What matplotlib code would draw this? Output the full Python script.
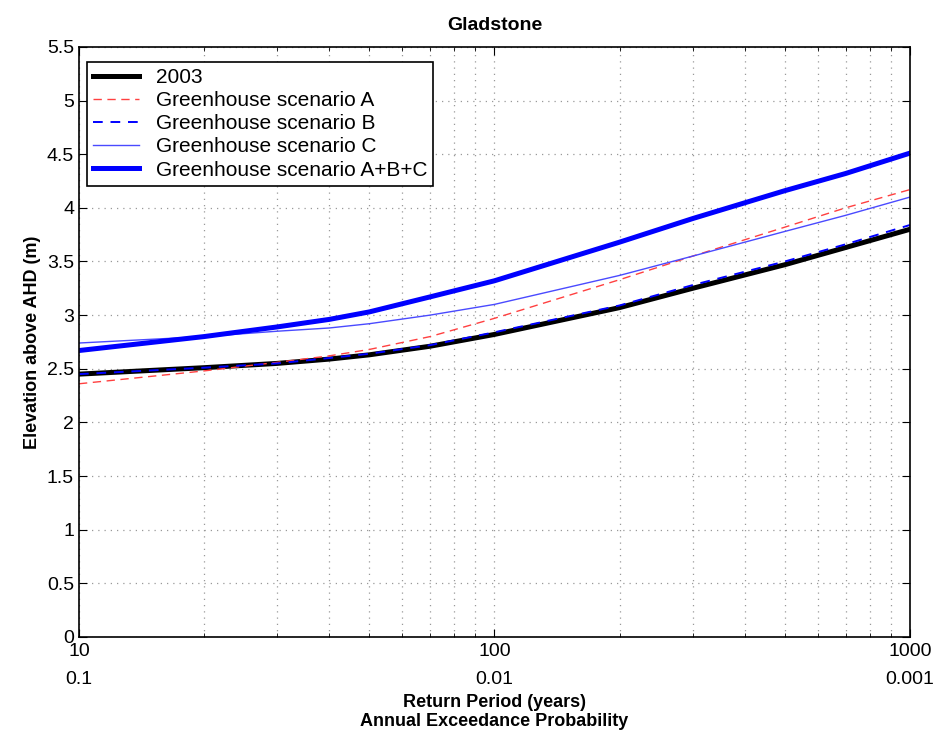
import numpy as np
import matplotlib
matplotlib.use('Agg')
import matplotlib.pyplot as plt
import matplotlib.transforms as mtransforms

plt.rcParams['font.family'] = ['Liberation Sans', 'DejaVu Sans']

# return period (years) and elevation above AHD (m)
period = [10, 20, 30, 40, 50, 70, 100, 200, 300, 500, 700, 1000]
base_2003 = [2.45, 2.51, 2.55, 2.59, 2.63, 2.71, 2.82, 3.07, 3.25, 3.47, 3.63, 3.80]
scen_a = [2.36, 2.48, 2.56, 2.62, 2.68, 2.80, 2.97, 3.33, 3.55, 3.82, 4.00, 4.17]
scen_b = [2.45, 2.51, 2.55, 2.60, 2.64, 2.72, 2.84, 3.09, 3.28, 3.50, 3.66, 3.84]
scen_c = [2.74, 2.80, 2.85, 2.88, 2.92, 3.00, 3.10, 3.37, 3.55, 3.78, 3.93, 4.10]
scen_abc = [2.67, 2.80, 2.89, 2.96, 3.03, 3.17, 3.32, 3.68, 3.90, 4.16, 4.32, 4.51]

x_ticks = [10, 100, 1000]
aep_labels = ['0.1', '0.01', '0.001']

fig = plt.figure(figsize=(9.4, 7.33), dpi=100)
ax = fig.add_axes([0.084, 0.131, 0.884, 0.805])

ax.plot(period, base_2003, color='black', lw=3.6, label='2003')
ax.plot(period, scen_a, color='#ff4040', lw=1.0, ls=(0, (6, 4)), label='Greenhouse scenario A')
ax.plot(period, scen_b, color='#0000ff', lw=1.4, ls=(0, (5, 4)), label='Greenhouse scenario B')
ax.plot(period, scen_c, color='#4a4aff', lw=1.0, label='Greenhouse scenario C')
ax.plot(period, scen_abc, color='#0000ff', lw=3.6, label='Greenhouse scenario A+B+C')

ax.set_xscale('log')
ax.set_xlim(10, 1000)
ax.set_ylim(0, 5.5)
ax.set_yticks(np.arange(0, 5.51, 0.5))
ax.set_yticklabels(['0', '0.5', '1', '1.5', '2', '2.5', '3', '3.5', '4', '4.5', '5', '5.5'])
ax.set_xticks(x_ticks)
ax.set_xticklabels([str(t) for t in x_ticks])

ax.grid(True, which='major', color='#999999', ls=(0, (1, 4)), lw=0.9)
ax.grid(True, which='minor', axis='x', color='#999999', ls=(0, (1, 4)), lw=0.9)
ax.tick_params(which='both', direction='in', top=True, right=True, labelsize=14)
ax.tick_params(which='major', length=6)
ax.tick_params(which='minor', length=3)
ax.tick_params(axis='x', pad=4)
for s in ax.spines.values():
    s.set_linewidth(1.2)

# annual exceedance probability labels under the return period labels
trans = mtransforms.blended_transform_factory(ax.transData, ax.transAxes)
for t, lab in zip(x_ticks, aep_labels):
    ax.text(t, -0.058, lab, transform=trans, ha='center', va='top', fontsize=14)

ax.set_title('Gladstone', fontsize=14, fontweight='bold', pad=12)
ax.set_ylabel('Elevation above AHD (m)', fontsize=13, fontweight='bold')
ax.text(0.5, -0.097, 'Return Period (years)', transform=ax.transAxes, ha='center', va='top',
        fontsize=13, fontweight='bold')
ax.text(0.5, -0.129, 'Annual Exceedance Probability', transform=ax.transAxes, ha='center', va='top',
        fontsize=13, fontweight='bold')

leg = ax.legend(loc='upper left', fontsize=15, fancybox=False, framealpha=1,
                edgecolor='black', handlelength=2.2, handletextpad=0.8, borderpad=0.3,
                labelspacing=0.2, borderaxespad=0, bbox_to_anchor=(0.0096, 0.975))
leg.get_frame().set_linewidth(1.2)

plt.savefig('out.png', dpi=100)
